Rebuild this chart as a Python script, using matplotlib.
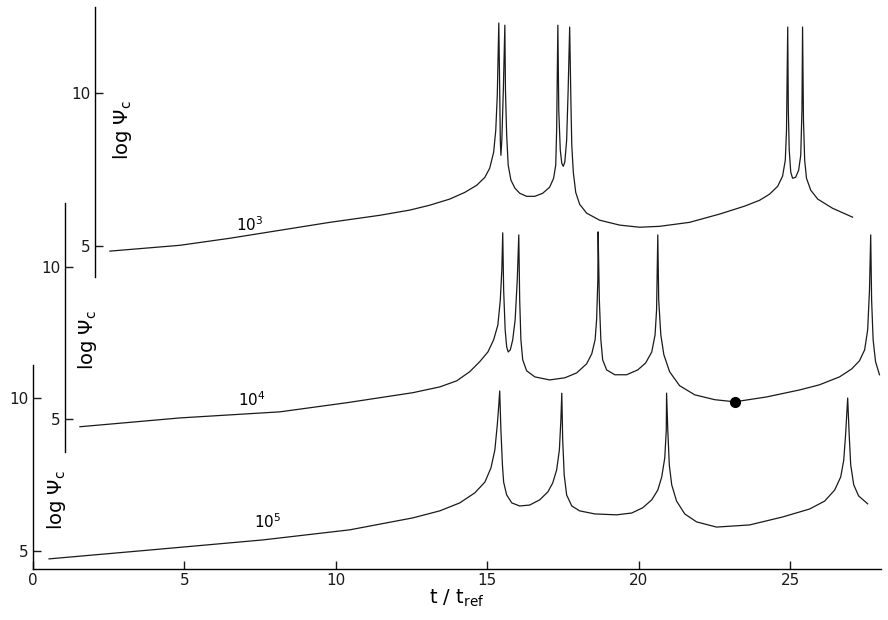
import numpy as np
import matplotlib
matplotlib.use('Agg')
from matplotlib import pyplot as plt

plt.rcParams['font.family'] = ['Liberation Sans Narrow', 'DejaVu Sans']
plt.rcParams['mathtext.fontset'] = 'dejavusans'

# curve for 10^3 (top panel)
t_top = [2.54, 4.85, 6.50, 8.15, 9.80, 11.45, 12.44, 13.10, 13.76, 14.26, 14.65, 14.92,
         15.08, 15.21, 15.28, 15.33, 15.38, 15.41, 15.43, 15.45, 15.48, 15.53, 15.58, 15.60,
         15.64, 15.69, 15.78, 15.91, 16.07, 16.30, 16.57, 16.83, 17.06, 17.19, 17.26, 17.29,
         17.33, 17.36, 17.41, 17.46, 17.51, 17.56, 17.62, 17.67, 17.72, 17.76, 17.79, 17.84,
         17.92, 18.05, 18.28, 18.71, 19.37, 20.03, 20.69, 21.68, 22.67, 23.50, 23.99, 24.32,
         24.59, 24.75, 24.84, 24.88, 24.92, 24.94, 24.97, 25.02, 25.08, 25.18, 25.28, 25.35,
         25.39, 25.41, 25.44, 25.48, 25.54, 25.68, 25.91, 26.40, 27.06]
v_top = [4.84, 5.03, 5.26, 5.52, 5.78, 6.01, 6.18, 6.34, 6.54, 6.76, 6.99, 7.25,
         7.55, 8.07, 8.79, 9.93, 12.29, 10.10, 8.46, 7.97, 8.46, 10.10, 12.22, 10.10,
         8.63, 7.65, 7.16, 6.90, 6.73, 6.63, 6.63, 6.73, 6.93, 7.22, 7.65, 8.79,
         12.22, 9.44, 8.14, 7.71, 7.61, 7.75, 8.46, 10.10, 12.16, 9.77, 8.30, 7.42,
         6.76, 6.37, 6.08, 5.85, 5.69, 5.62, 5.65, 5.78, 6.05, 6.31, 6.50, 6.70,
         6.96, 7.29, 7.81, 8.79, 12.16, 9.44, 8.14, 7.42, 7.22, 7.25, 7.48, 7.97,
         9.44, 12.16, 9.12, 7.81, 7.22, 6.83, 6.54, 6.24, 5.95]

# curve for 10^4 (middle panel)
t_mid = [1.55, 4.85, 8.15, 10.36, 12.54, 13.43, 13.99, 14.42, 14.75, 15.02, 15.21, 15.35,
         15.43, 15.48, 15.51, 15.54, 15.59, 15.64, 15.69, 15.76, 15.84, 15.92, 15.99, 16.04,
         16.07, 16.11, 16.17, 16.30, 16.57, 17.06, 17.56, 17.95, 18.28, 18.45, 18.56, 18.61,
         18.65, 18.66, 18.70, 18.75, 18.81, 18.94, 19.21, 19.60, 19.97, 20.23, 20.43, 20.54,
         20.59, 20.63, 20.66, 20.73, 20.83, 21.02, 21.35, 21.85, 22.51, 23.17, 24.22, 25.31,
         25.97, 26.63, 27.03, 27.29, 27.46, 27.56, 27.62, 27.66, 27.69, 27.74, 27.82, 27.95]
v_mid = [4.74, 5.03, 5.23, 5.53, 5.86, 6.05, 6.25, 6.55, 6.88, 7.20, 7.60, 8.09,
         8.91, 9.90, 11.12, 9.24, 7.93, 7.37, 7.20, 7.27, 7.60, 8.26, 9.57, 11.05,
         8.91, 7.60, 6.94, 6.58, 6.38, 6.28, 6.35, 6.51, 6.81, 7.14, 7.60, 8.26,
         9.57, 11.15, 8.91, 7.60, 6.94, 6.61, 6.45, 6.45, 6.61, 6.84, 7.20, 7.76,
         8.59, 11.05, 8.91, 7.76, 7.11, 6.55, 6.09, 5.79, 5.63, 5.56, 5.72, 5.95,
         6.12, 6.38, 6.64, 6.91, 7.27, 7.93, 9.24, 11.05, 8.91, 7.60, 6.88, 6.45]
dot_t, dot_v = 23.17, 5.56

# curve for 10^5 (bottom panel)
t_bot = [0.53, 3.86, 7.59, 10.46, 12.54, 13.43, 14.09, 14.59, 14.92, 15.12, 15.25, 15.33,
         15.38, 15.41, 15.45, 15.50, 15.54, 15.64, 15.81, 16.07, 16.40, 16.73, 17.00, 17.16,
         17.29, 17.38, 17.43, 17.46, 17.49, 17.54, 17.62, 17.79, 18.05, 18.55, 19.27, 19.77,
         20.13, 20.43, 20.63, 20.76, 20.86, 20.91, 20.92, 20.96, 21.01, 21.09, 21.25, 21.52,
         21.91, 22.57, 23.66, 24.75, 25.64, 26.14, 26.47, 26.67, 26.77, 26.83, 26.90, 26.95,
         27.00, 27.10, 27.26, 27.56]
v_bot = [4.74, 5.03, 5.36, 5.69, 6.08, 6.31, 6.57, 6.90, 7.25, 7.71, 8.30, 9.12,
         9.77, 10.23, 8.95, 7.81, 7.25, 6.83, 6.57, 6.47, 6.50, 6.67, 6.93, 7.22,
         7.65, 8.30, 9.28, 10.16, 8.63, 7.48, 6.83, 6.47, 6.31, 6.21, 6.18, 6.24,
         6.41, 6.67, 6.99, 7.42, 8.04, 8.95, 10.16, 8.95, 7.81, 7.16, 6.63, 6.21,
         5.95, 5.78, 5.85, 6.11, 6.37, 6.63, 6.99, 7.42, 7.97, 8.79, 10.00, 8.79,
         7.81, 7.16, 6.80, 6.54]

curve_labels = ['$10^3$', '$10^4$', '$10^5$']
label_pos = [(7.16, 5.69), (7.23, 5.63), (7.76, 5.95)]
x_ticks = [0, 5, 10, 15, 20, 25]
y_ticks = [5, 10]

c_line = '#1a1a1a'
lw = 0.9

fig = plt.figure(figsize=(8.88, 6.2), dpi=100)
left, width = 33 / 888, 848 / 888
ax_bot = fig.add_axes([left, 0.0823, width, 0.329])
ax_mid = fig.add_axes([left, 0.271, width, 0.4016])
ax_top = fig.add_axes([left, 0.553, width, 0.4355])

ax_bot.set_ylim(4.41, 11.08)
ax_mid.set_ylim(3.91, 12.10)
ax_top.set_ylim(3.99, 12.81)

spine_x = {ax_bot: 0.0, ax_mid: 1.06, ax_top: 2.05}
for ax in [ax_bot, ax_mid, ax_top]:
    ax.set_xlim(0, 28)
    ax.patch.set_visible(False)
    ax.spines['top'].set_visible(False)
    ax.spines['right'].set_visible(False)
    ax.spines['left'].set_position(('data', spine_x[ax]))
    ax.spines['left'].set_linewidth(1.0)
    ax.set_yticks(y_ticks)
    ax.tick_params(axis='both', direction='in', length=5.5, width=1.0, pad=3,
                   labelsize=11, colors=c_line)

for ax in [ax_mid, ax_top]:
    ax.spines['bottom'].set_visible(False)
    ax.set_xticks([])

ax_bot.spines['bottom'].set_linewidth(1.0)
ax_bot.set_xticks(x_ticks)
ax_bot.set_xlabel(r'$\mathrm{t\ /\ t}_{\mathrm{ref}}$', fontsize=14, labelpad=0)

ax_top.plot(t_top, v_top, color=c_line, lw=lw, clip_on=False)
ax_mid.plot(t_mid, v_mid, color=c_line, lw=lw, clip_on=False)
ax_bot.plot(t_bot, v_bot, color=c_line, lw=lw, clip_on=False)
ax_mid.plot(dot_t, dot_v, 'o', color='black', ms=7, clip_on=False)

for ax, lab, (tx, ty) in zip([ax_top, ax_mid, ax_bot], curve_labels, label_pos):
    ax.text(tx, ty, lab, ha='center', va='center', fontsize=11)

# y labels sit just inside each panel's axis line
ylab = r'log $\Psi_{\mathrm{c}}$'
fig.text(123 / 888, 1 - 130 / 620, ylab, rotation=90, ha='center', va='center', fontsize=14)
fig.text(87 / 888, 1 - 340 / 620, ylab, rotation=90, ha='center', va='center', fontsize=14)
fig.text(57 / 888, 1 - 500 / 620, ylab, rotation=90, ha='center', va='center', fontsize=14)

fig.savefig('out.png', dpi=100)
